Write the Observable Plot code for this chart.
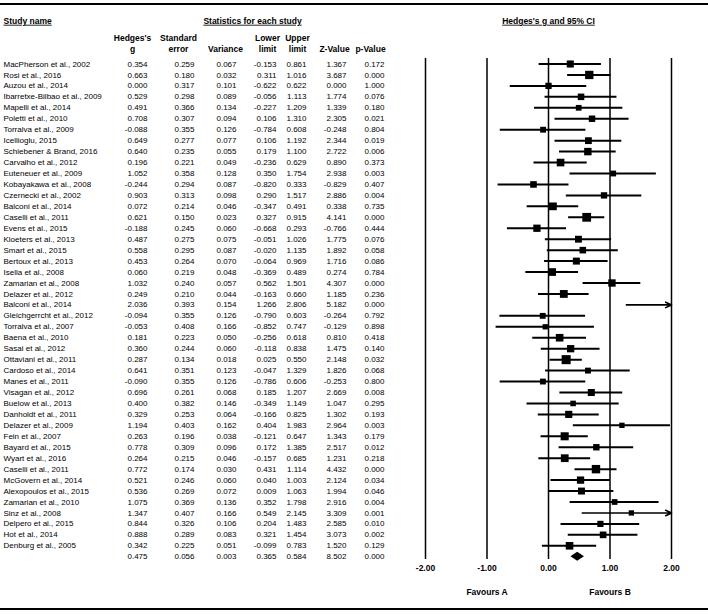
<!DOCTYPE html>
<html><head><meta charset="utf-8">
<script src="https://cdn.jsdelivr.net/npm/d3@7"></script>
<script src="https://cdn.jsdelivr.net/npm/@observablehq/plot@0.6"></script>
<style>
body{margin:0;background:#fff;}
#chart{position:relative;width:708px;height:614px;overflow:hidden;font-family:"Liberation Sans",Arial,sans-serif;}
#chart svg{position:absolute;top:0;overflow:visible;}
.rule{position:absolute;left:0;width:708px;height:2px;background:#000;}
</style></head><body><div id="chart"></div><script>
const studies = ["MacPherson et al., 2002","Rosi et al., 2016","Auzou et al., 2014","Ibarretxe-Bilbao et al., 2009","Mapelli et al., 2014","Poletti et al., 2010","Torralva et al., 2009","Icellioglu, 2015","Schiebener & Brand, 2016","Carvalho et al., 2012","Euteneuer et al., 2009","Kobayakawa et al., 2008","Czernecki et al., 2002","Balconi et al., 2014","Caselli et al., 2011","Evens et al., 2015","Kloeters et al., 2013","Smart et al., 2015","Bertoux et al., 2013","Isella et al., 2008","Zamarian et al., 2008","Delazer et al., 2012","Balconi et al., 2014","Gleichgerrcht et al., 2012","Torralva et al., 2007","Baena et al., 2010","Sasai et al., 2012","Ottaviani et al., 2011","Cardoso et al., 2014","Manes et al., 2011","Visagan et al., 2012","Buelow et al., 2013","Danholdt et al., 2011","Delazer et al., 2009","Fein et al., 2007","Bayard et al., 2015","Wyart et al., 2016","Caselli et al., 2011","McGovern et al., 2014","Alexopoulos et al., 2015","Zamarian et al., 2010","Sinz et al., 2008","Delpero et al., 2015","Hot et al., 2014","Denburg et al., 2005"];
const hedgesG = [0.354,0.663,0.000,0.529,0.491,0.708,-0.088,0.649,0.640,0.196,1.052,-0.244,0.903,0.072,0.621,-0.188,0.487,0.558,0.453,0.060,1.032,0.249,2.036,-0.094,-0.053,0.181,0.360,0.287,0.641,-0.090,0.696,0.400,0.329,1.194,0.263,0.778,0.264,0.772,0.521,0.536,1.075,1.347,0.844,0.888,0.342];
const stdErr = [0.259,0.180,0.317,0.298,0.366,0.307,0.355,0.277,0.235,0.221,0.358,0.294,0.313,0.214,0.150,0.245,0.275,0.295,0.264,0.219,0.240,0.210,0.393,0.355,0.408,0.223,0.244,0.134,0.351,0.355,0.261,0.382,0.253,0.403,0.196,0.309,0.215,0.174,0.246,0.269,0.369,0.407,0.326,0.289,0.225];
const variance = [0.067,0.032,0.101,0.089,0.134,0.094,0.126,0.077,0.055,0.049,0.128,0.087,0.098,0.046,0.023,0.060,0.075,0.087,0.070,0.048,0.057,0.044,0.154,0.126,0.166,0.050,0.060,0.018,0.123,0.126,0.068,0.146,0.064,0.162,0.038,0.096,0.046,0.030,0.060,0.072,0.136,0.166,0.106,0.083,0.051];
const lowerLimit = [-0.153,0.311,-0.622,-0.056,-0.227,0.106,-0.784,0.106,0.179,-0.236,0.350,-0.820,0.290,-0.347,0.327,-0.668,-0.051,-0.020,-0.064,-0.369,0.562,-0.163,1.266,-0.790,-0.852,-0.256,-0.118,0.025,-0.047,-0.786,0.185,-0.349,-0.166,0.404,-0.121,0.172,-0.157,0.431,0.040,0.009,0.352,0.549,0.204,0.321,-0.099];
const upperLimit = [0.861,1.016,0.622,1.113,1.209,1.310,0.608,1.192,1.100,0.629,1.754,0.333,1.517,0.491,0.915,0.293,1.026,1.135,0.969,0.489,1.501,0.660,2.806,0.603,0.747,0.618,0.838,0.550,1.329,0.606,1.207,1.149,0.825,1.983,0.647,1.385,0.685,1.114,1.003,1.063,1.798,2.145,1.483,1.454,0.783];
const zValue = [1.367,3.687,0.000,1.774,1.339,2.305,-0.248,2.344,2.722,0.890,2.938,-0.829,2.886,0.338,4.141,-0.766,1.775,1.892,1.716,0.274,4.307,1.185,5.182,-0.264,-0.129,0.810,1.475,2.148,1.826,-0.253,2.669,1.047,1.302,2.964,1.343,2.517,1.231,4.432,2.124,1.994,2.916,3.309,2.585,3.073,1.520];
const pValue = [0.172,0.000,1.000,0.076,0.180,0.021,0.804,0.019,0.006,0.373,0.003,0.407,0.004,0.735,0.000,0.444,0.076,0.058,0.086,0.784,0.000,0.236,0.000,0.792,0.898,0.418,0.140,0.032,0.068,0.800,0.008,0.295,0.193,0.003,0.179,0.012,0.218,0.000,0.034,0.046,0.004,0.001,0.010,0.002,0.129];
// summary (random effects): g, se, variance, lower, upper, z, p
const summaryStats = [0.475,0.056,0.003,0.365,0.584,8.502,0.000];
const axisTicks = [-2,-1,0,1,2];
const favourLabels = ["Favours A","Favours B"];
const favourX = [-1,1];
const headerTop = ["Hedges's","Standard","","Lower","Upper","",""];
const headerBottom = ["g","error","Variance","limit","limit","Z-Value","p-Value"];
const tau2 = 0.06; // estimated between-study variance used for square weights

// layout
const FONT = "'Liberation Sans', Arial, sans-serif";
const keys = ["g","se","v","lo","hi","z","p"];
const colRight = [147,194,236,276,306,346,384];
const headCenter = [132,178,225,267,297,334,370];
const yDomain = [0,45], yRange = [63.5,556.25];

const rows = studies.map((name,i)=>({i,name,g:hedgesG[i],se:stdErr[i],v:variance[i],lo:lowerLimit[i],hi:upperLimit[i],z:zValue[i],p:pValue[i],w:1/(variance[i]+tau2)}));
const sumRow = {i:studies.length,name:"",g:summaryStats[0],se:summaryStats[1],v:summaryStats[2],lo:summaryStats[3],hi:summaryStats[4],z:summaryStats[5],p:summaryStats[6]};
const allRows = rows.concat([sumRow]);

const hdr = {frameAnchor:"top",lineAnchor:"middle",fontWeight:"bold",fontSize:8.5};
const tableMarks = [
  Plot.text(allRows,{x:3,y:"i",text:"name",textAnchor:"start",fontSize:8}),
  ...keys.map((k,c)=>Plot.text(allRows,{x:colRight[c],y:"i",text:d=>d[k].toFixed(3),textAnchor:"end",fontSize:8})),
  Plot.text(["Study name"],{...hdr,x:3,text:d=>d,dy:20.5,textAnchor:"start"}),
  Plot.text(["Statistics for each study"],{...hdr,x:252,text:d=>d,dy:20.5}),
  Plot.text(headerTop.map((t,c)=>({t,c})).filter(d=>d.t),{...hdr,x:d=>headCenter[d.c],text:"t",dy:37.5}),
  Plot.text(headerBottom.map((t,c)=>({t,c})),{...hdr,x:d=>headCenter[d.c],text:"t",dy:49})
];
const table = Plot.plot({
  width:415,height:614,margin:0,
  x:{domain:[0,415],range:[0,415],axis:null},
  y:{domain:yDomain,range:yRange,axis:null},
  style:{fontFamily:FONT,background:"transparent",color:"#000"},
  marks:tableMarks
});

const maxW = d3.max(rows,d=>d.w);
const diamond = [
  {x:sumRow.lo,y1:sumRow.i,y2:sumRow.i},
  {x:sumRow.g,y1:sumRow.i-0.41,y2:sumRow.i+0.41},
  {x:sumRow.hi,y1:sumRow.i,y2:sumRow.i}
];
const forest = Plot.plot({
  width:293,height:614,margin:0,
  x:{domain:[-2,2],range:[10,256],axis:null},
  y:{domain:yDomain,range:yRange,axis:null},
  r:{domain:[0,maxW],range:[0,5.1]},
  style:{fontFamily:FONT,background:"transparent",color:"#000"},
  marks:[
    Plot.ruleX(axisTicks,{y1:-0.5,y2:45.25,strokeWidth:1.5,stroke:"#000"}),
    Plot.ruleY(rows.filter(d=>d.hi<=2),{x1:"lo",x2:"hi",y:"i",strokeWidth:2,stroke:"#000"}),
    Plot.arrow(rows.filter(d=>d.hi>2),{x1:"lo",x2:2,y1:"i",y2:"i",strokeWidth:1.6,headLength:6,headAngle:50,stroke:"#000"}),
    Plot.dot(rows.filter(d=>d.g<=2),{x:"g",y:"i",r:"w",symbol:"square",fill:"#000"}),
    Plot.areaY(diamond,{x:"x",y1:"y1",y2:"y2",fill:"#000"}),
    Plot.text(axisTicks,{...hdr,x:d=>d,text:d=>d.toFixed(2),dy:568}),
    Plot.text(favourLabels,{...hdr,x:(d,i)=>favourX[i],text:d=>d,dy:592}),
    Plot.text(["Hedges's g and 95% CI"],{...hdr,x:0,text:d=>d,dy:20.5})
  ]
});

const chart = document.getElementById("chart");
table.style.left = "0px";
forest.style.left = "415px";
chart.appendChild(table);
chart.appendChild(forest);
const underlined = ["Study name","Statistics for each study","Hedges's g and 95% CI"];
d3.select(chart).selectAll("text").filter(function(){return underlined.includes(this.textContent);}).attr("text-decoration","underline");
for (const top of [3,608]) {
  const r = document.createElement("div");
  r.className = "rule"; r.style.top = top + "px";
  chart.appendChild(r);
}
</script></body></html>
